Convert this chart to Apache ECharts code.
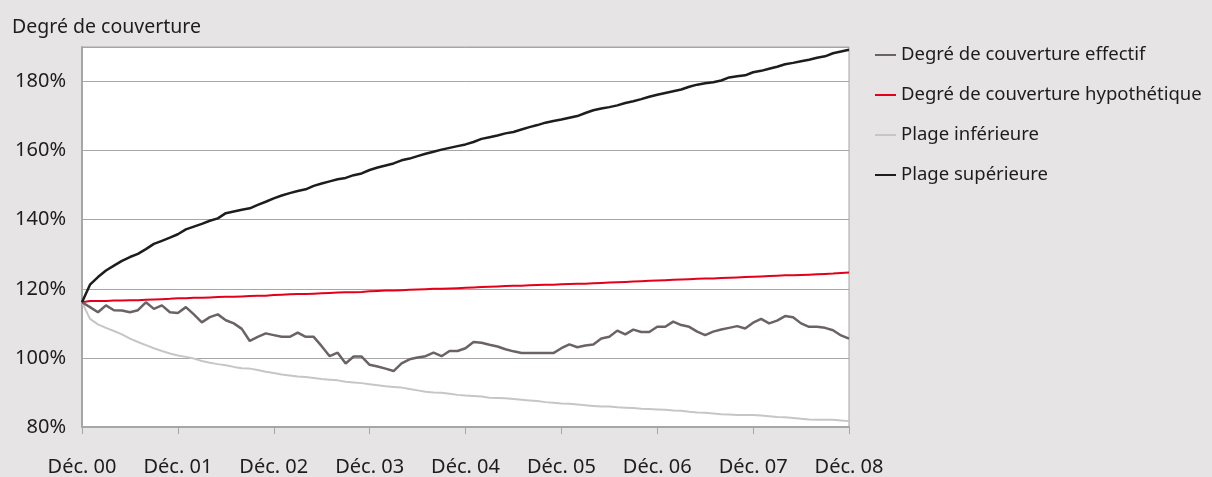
<!DOCTYPE html>
<html>
<head>
<meta charset="utf-8">
<script src="https://cdn.jsdelivr.net/npm/echarts@6/dist/echarts.min.js"></script>
<style>
  html, body { margin: 0; padding: 0; background: #e6e4e5; }
  #chart { width: 1212px; height: 477px; }
</style>
</head>
<body>
<div id="chart"></div>
<script>
// mois de Déc. 00 à Déc. 08
const monthNames = ['Jan.', 'Fév.', 'Mars', 'Avr.', 'Mai', 'Juin', 'Juil.', 'Août', 'Sept.', 'Oct.', 'Nov.', 'Déc.']
const years = ['00', '01', '02', '03', '04', '05', '06', '07', '08']

const categories = ['Déc. 00']
years.slice(1).forEach((y) => {
	monthNames.forEach((m) => categories.push(m + ' ' + y))
})

const effectif = [
	116.1, 114.7, 113.2, 115.2, 113.8, 113.7, 113.2, 113.8, 116.1, 114.2, 115.2, 113.2,
	113.0, 114.7, 112.6, 110.3, 111.8, 112.6, 110.9, 110.0, 108.4, 104.9, 106.1, 107.1,
	106.6, 106.1, 106.1, 107.3, 106.1, 106.1, 103.4, 100.5, 101.5, 98.4, 100.4, 100.4,
	98.0, 97.5, 96.9, 96.2, 98.4, 99.6, 100.1, 100.5, 101.5, 100.5, 102.0, 102.0,
	102.8, 104.6, 104.4, 103.8, 103.3, 102.5, 101.9, 101.4, 101.4, 101.4, 101.4, 101.4,
	102.8, 103.9, 103.1, 103.6, 103.9, 105.6, 106.1, 107.9, 106.8, 108.2, 107.5, 107.5,
	109.0, 109.0, 110.5, 109.5, 109.0, 107.6, 106.6, 107.6, 108.2, 108.7, 109.2, 108.5,
	110.2, 111.3, 110.0, 110.8, 112.1, 111.8, 110.0, 109.0, 109.0, 108.7, 108.0, 106.5,
	105.6
]

const hypothetique = [
	116.1, 116.5, 116.5, 116.5, 116.6, 116.6, 116.7, 116.7, 116.8, 116.9, 117.0, 117.1,
	117.3, 117.3, 117.4, 117.4, 117.5, 117.6, 117.7, 117.7, 117.8, 117.9, 118.0, 118.0,
	118.2, 118.3, 118.4, 118.5, 118.5, 118.6, 118.7, 118.8, 118.9, 119.0, 119.0, 119.1,
	119.3, 119.4, 119.5, 119.5, 119.6, 119.7, 119.8, 119.9, 120.0, 120.0, 120.1, 120.2,
	120.3, 120.4, 120.5, 120.6, 120.7, 120.8, 120.9, 120.9, 121.0, 121.1, 121.2, 121.2,
	121.3, 121.4, 121.5, 121.5, 121.6, 121.7, 121.8, 121.9, 122.0, 122.1, 122.2, 122.3,
	122.4, 122.5, 122.6, 122.7, 122.8, 122.9, 123.0, 123.0, 123.1, 123.2, 123.3, 123.4,
	123.5, 123.6, 123.7, 123.8, 123.9, 123.9, 124.0, 124.1, 124.2, 124.3, 124.4, 124.6,
	124.7
]

const plageInf = [
	116.1, 111.3, 109.7, 108.7, 107.8, 106.8, 105.6, 104.6, 103.7, 102.8, 102.0, 101.3,
	100.7, 100.3, 99.8, 99.1, 98.6, 98.2, 97.9, 97.4, 97.0, 96.9, 96.5, 96.0,
	95.6, 95.2, 94.9, 94.6, 94.5, 94.2, 93.9, 93.7, 93.5, 93.1, 92.9, 92.7,
	92.4, 92.1, 91.8, 91.6, 91.4, 91.0, 90.6, 90.2, 90.0, 89.9, 89.6, 89.3,
	89.1, 89.0, 88.8, 88.5, 88.4, 88.3, 88.1, 87.9, 87.7, 87.5, 87.2, 87.0,
	86.8, 86.7, 86.5, 86.3, 86.1, 85.9, 85.9, 85.7, 85.6, 85.5, 85.3, 85.2,
	85.1, 85.0, 84.8, 84.7, 84.4, 84.2, 84.1, 83.9, 83.7, 83.6, 83.5, 83.5,
	83.5, 83.3, 83.1, 82.9, 82.8, 82.6, 82.4, 82.2, 82.1, 82.1, 82.1, 81.9,
	81.7
]

const plageSup = [
	116.1, 121.2, 123.4, 125.3, 126.7, 128.1, 129.2, 130.1, 131.5, 133.0, 133.9, 134.8,
	135.8, 137.2, 138.0, 138.8, 139.7, 140.4, 141.9, 142.4, 142.9, 143.3, 144.3, 145.2,
	146.2, 147.0, 147.7, 148.3, 148.8, 149.8, 150.5, 151.1, 151.7, 152.1, 152.9, 153.4,
	154.4, 155.1, 155.7, 156.3, 157.2, 157.7, 158.4, 159.1, 159.7, 160.3, 160.8, 161.3,
	161.8, 162.5, 163.4, 163.9, 164.4, 165.0, 165.4, 166.1, 166.8, 167.4, 168.1, 168.6,
	169.0, 169.5, 170.0, 170.9, 171.7, 172.2, 172.6, 173.1, 173.8, 174.3, 174.9, 175.6,
	176.2, 176.7, 177.2, 177.7, 178.5, 179.1, 179.5, 179.8, 180.3, 181.2, 181.5, 181.8,
	182.7, 183.1, 183.7, 184.3, 185.0, 185.4, 185.9, 186.3, 186.9, 187.3, 188.2, 188.7,
	189.2
]

const seriesNames = ['Degré de couverture effectif', 'Degré de couverture hypothétique', 'Plage inférieure', 'Plage supérieure']
const yTicks = [80, 100, 120, 140, 160, 180]

const chart = echarts.init(document.getElementById('chart'))

const lineSeries = (name, data, color, width, z) => ({
	name: name,
	type: 'line',
	data: data,
	showSymbol: false,
	symbol: 'none',
	z: z,
	lineStyle: { color: color, width: width },
	itemStyle: { color: color },
	emphasis: { disabled: true }
})

chart.setOption({
	backgroundColor: '#e6e4e5',
	animation: false,
	textStyle: { fontFamily: 'Noto Sans', color: '#1d1d1b' },
	title: {
		text: 'Degré de couverture',
		left: 7,
		top: 12,
		textStyle: { fontSize: 19.5, fontWeight: 'normal', color: '#1d1d1b', fontFamily: 'Noto Sans' }
	},
	legend: {
		orient: 'vertical',
		left: 870,
		top: 40,
		icon: 'rect',
		itemWidth: 21,
		itemHeight: 2,
		itemGap: 20,
		data: seriesNames,
		textStyle: { fontSize: 18.5, color: '#1d1d1b', lineHeight: 20, padding: [0, 0, 0, 0] }
	},
	grid: {
		left: 82,
		right: 363,
		top: 47,
		bottom: 49,
		show: true,
		backgroundColor: '#ffffff',
		borderColor: '#a6a6a6',
		borderWidth: 1
	},
	xAxis: {
		type: 'category',
		data: categories,
		boundaryGap: false,
		axisLine: { lineStyle: { color: '#a6a6a6', width: 2 } },
		axisTick: { interval: 11, length: 7, lineStyle: { color: '#a6a6a6', width: 1 } },
		axisLabel: { interval: 11, margin: 30, fontSize: 20, color: '#1d1d1b' },
		splitLine: { show: false }
	},
	yAxis: {
		type: 'value',
		min: 80,
		max: 190,
		interval: 20,
		axisLine: { show: true, lineStyle: { color: '#a6a6a6', width: 2 } },
		axisTick: { show: false },
		axisLabel: {
			margin: 16,
			fontSize: 20,
			color: '#1d1d1b',
			formatter: (v) => (yTicks.includes(v) ? v + '%' : '')
		},
		splitLine: { lineStyle: { color: '#a6a6a6', width: 1 } }
	},
	series: [
		lineSeries(seriesNames[0], effectif, '#6b6266', 2.5, 4),
		lineSeries(seriesNames[1], hypothetique, '#e2001a', 2, 3),
		lineSeries(seriesNames[2], plageInf, '#c6c6c6', 2, 2),
		lineSeries(seriesNames[3], plageSup, '#1d1d1b', 2.5, 5)
	]
})
</script>
</body>
</html>
